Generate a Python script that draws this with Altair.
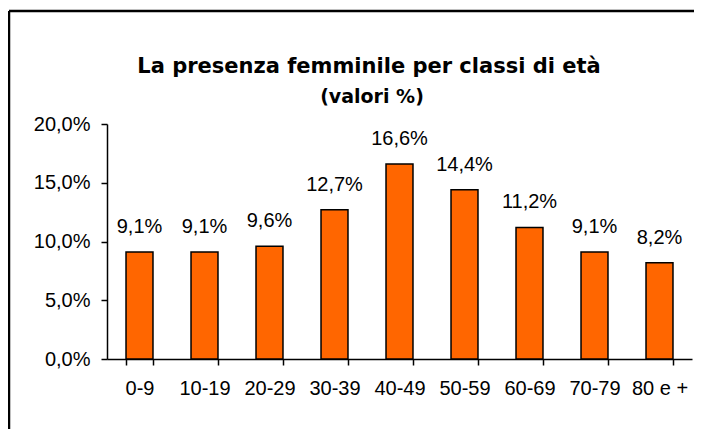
import altair as alt
import pandas as pd

categories = ["0-9", "10-19", "20-29", "30-39", "40-49", "50-59", "60-69", "70-79", "80 e +"]
values = [9.1, 9.1, 9.6, 12.7, 16.6, 14.4, 11.2, 9.1, 8.2]
value_labels = ["9,1%", "9,1%", "9,6%", "12,7%", "16,6%", "14,4%", "11,2%", "9,1%", "8,2%"]
y_ticks = [0, 5, 10, 15, 20]
title_text = "La presenza femminile per classi di età"
subtitle_text = "(valori %)"

df = pd.DataFrame({"classe": categories, "valore": values, "etichetta": value_labels})

LABEL_FONT = "Liberation Sans"

x_enc = alt.X(
    "classe:N",
    sort=categories,
    scale=alt.Scale(paddingInner=0.585, paddingOuter=0.2925),
    axis=alt.Axis(
        title=None,
        labelAngle=0,
        tickBand="extent",
        labelFont=LABEL_FONT,
        labelFontSize=20,
        labelColor="#000000",
        labelPadding=13,
        tickSize=6,
        tickColor="#000000",
        tickWidth=1.5,
        domainColor="#000000",
        domainWidth=1.5,
        grid=False,
    ),
)
y_enc = alt.Y(
    "valore:Q",
    scale=alt.Scale(domain=[0, 20], nice=False),
    axis=alt.Axis(
        title=None,
        values=y_ticks,
        labelExpr="replace(format(datum.value, '.1f'), '.', ',') + '%'",
        labelFont=LABEL_FONT,
        labelFontSize=20,
        labelColor="#000000",
        labelPadding=11,
        tickSize=6,
        tickColor="#000000",
        tickWidth=1.5,
        domainColor="#000000",
        domainWidth=1.5,
        grid=False,
    ),
)

base = alt.Chart(df)

bars = base.mark_bar(color="#FF6600", stroke="#000000", strokeWidth=1.5).encode(
    x=x_enc, y=y_enc
)

texts = base.mark_text(
    font=LABEL_FONT, fontSize=20, color="#000000", baseline="alphabetic", dy=-19
).encode(x=alt.X("classe:N", sort=categories), y="valore:Q", text="etichetta:N")

title_mark = alt.Chart(alt.Data(values=[{"t": title_text}])).mark_text(
    font="DejaVu Sans", fontWeight="bold", fontSize=21, color="#000000",
    align="center", baseline="alphabetic",
).encode(x=alt.value(262), y=alt.value(-51), text="t:N")

subtitle_mark = alt.Chart(alt.Data(values=[{"t": subtitle_text}])).mark_text(
    font="DejaVu Sans", fontWeight="bold", fontSize=19, color="#000000",
    align="center", baseline="alphabetic",
).encode(x=alt.value(265), y=alt.value(-21), text="t:N")

frame = alt.Data(values=[{}])
top_line = alt.Chart(frame).mark_rule(color="#000000", strokeWidth=2.5).encode(
    x=alt.value(-98), x2=alt.value(700), y=alt.value(-113)
)
left_line = alt.Chart(frame).mark_rule(color="#000000", strokeWidth=2.5).encode(
    x=alt.value(-98), y=alt.value(-113), y2=alt.value(400)
)

chart = (
    alt.layer(top_line, left_line, bars, texts, title_mark, subtitle_mark)
    .properties(
        width=585,
        height=235,
        autosize=alt.AutoSizeParams(type="none"),
        padding={"left": 99, "top": 116, "right": 2, "bottom": 70},
        background="#FFFFFF",
    )
    .configure_view(strokeWidth=0)
)

chart.save("out.html", embed_options={"renderer": "svg", "actions": False})
